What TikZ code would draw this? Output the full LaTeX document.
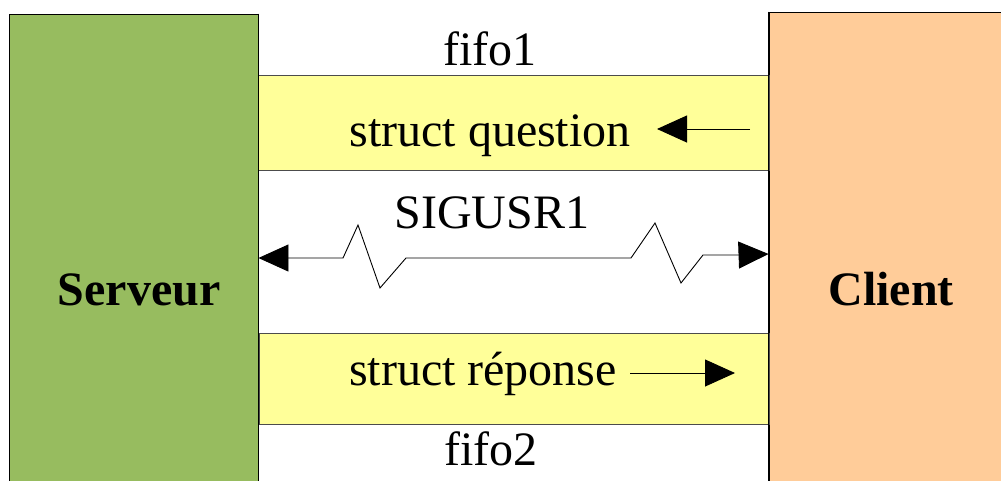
\documentclass[tikz,border=0pt]{standalone}
\usepackage{fontspec}
\setmainfont{Liberation Serif}
\usetikzlibrary{arrows.meta}
\definecolor{servgreen}{HTML}{97BC5F}
\definecolor{clientorange}{HTML}{FFCC99}
\definecolor{fifoyellow}{HTML}{FFFF99}
\tikzset{
  big/.style={font=\fontsize{48}{52}\selectfont, inner sep=0pt},
  bigbold/.style={font=\fontsize{48}{52}\selectfont\bfseries, inner sep=0pt},
  procbox/.style={draw=black, line width=0.9pt, inner sep=0pt},
  fifobox/.style={draw=black!70, fill=fifoyellow, line width=0.9pt, inner sep=0pt},
  flow/.style={line width=0.9pt, -{Triangle[length=30pt,width=27pt]}},
  sig/.style={line width=0.9pt, {Triangle[length=30pt,width=27pt]}-{Triangle[length=30pt,width=27pt]}, line join=miter}
}
\begin{document}
\begin{tikzpicture}[x=1pt,y=-1pt]
\useasboundingbox (0,0) rectangle (1001,480);
\clip (0,0) rectangle (1001,480);
% process boxes
\node[procbox, fill=servgreen, minimum width=249pt, minimum height=552pt] (serv) at (133.5,290) {};
\node[procbox, fill=clientorange, minimum width=241pt, minimum height=556pt] (cli) at (889.5,290) {};
\node[bigbold, anchor=base] (servtxt) at (139,305) {Serveur};
\node[bigbold, anchor=base] (clitxt) at (891,305) {Client};
% fifo boxes
\node[fifobox, minimum width=511pt, minimum height=95pt] (q) at (513.5,122.5) {};
\node[fifobox, minimum width=510pt, minimum height=91pt] (r) at (514,378.5) {};
\node[big, anchor=base] (qtxt) at (490,146) {struct question};
\node[big, anchor=base] (rtxt) at (483,385) {struct réponse};
\node[big, anchor=base] (f1) at (490,65) {fifo1};
\node[big, anchor=base] (f2) at (491,465) {fifo2};
\node[big, anchor=base] (sigtxt) at (492,228) {SIGUSR1};
% flow arrows
\coordinate (qs) at (750,129);
\coordinate (qe) at (657,129);
\draw[flow] (qs) -- (qe);
\coordinate (rs) at (630,373);
\coordinate (re) at (735,373);
\draw[flow] (rs) -- (re);
% signal
\draw[sig] (serv.east |- 0,258) -- (343,258) -- (358,225) -- (380,288) -- (406,258)
  -- (631,258) -- (655,223) -- (681,283) -- (703,255) -- (740,255) -- (cli.west |- 0,254);
% redraw box edges on top
\draw[black, line width=0.9pt] (serv.north east) -- (serv.south east);
\draw[black, line width=0.9pt] (cli.north west) -- (cli.south west);
\end{tikzpicture}
\end{document}
